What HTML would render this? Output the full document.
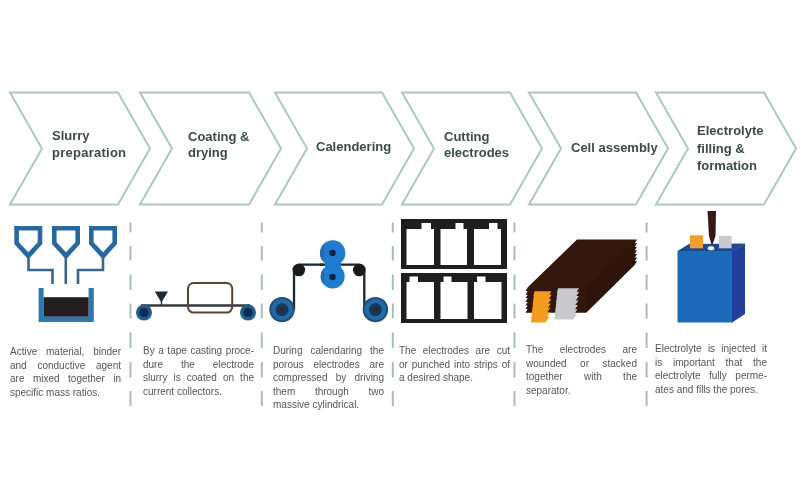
<!DOCTYPE html>
<html><head><meta charset="utf-8">
<style>
html,body{margin:0;padding:0;background:#fff;}
body{width:800px;height:500px;position:relative;overflow:hidden;font-family:"Liberation Sans",sans-serif;}
#w{position:absolute;left:0;top:0;width:800px;height:500px;filter:blur(0.4px);}
svg{position:absolute;left:0;top:0;}
.p{position:absolute;font-size:10px;line-height:13.5px;color:#555;width:111px;}
.p div{text-align:justify;text-align-last:justify;white-space:nowrap;}
.p div.l{text-align-last:left;}
</style></head><body><div id="w">
<svg width="800" height="500" viewBox="0 0 800 500">
 <g fill="none" stroke="#aec7c3" stroke-width="2">
  <path d="M10,92.5 L118,92.5 L150,148.5 L118,204.5 L10,204.5 L42,148.5 Z"/>
  <path d="M140,92.5 L249,92.5 L281,148.5 L249,204.5 L140,204.5 L172,148.5 Z"/>
  <path d="M275,92.5 L382,92.5 L414,148.5 L382,204.5 L275,204.5 L307,148.5 Z"/>
  <path d="M402,92.5 L510,92.5 L542,148.5 L510,204.5 L402,204.5 L434,148.5 Z"/>
  <path d="M529,92.5 L636,92.5 L668,148.5 L636,204.5 L529,204.5 L561,148.5 Z"/>
  <path d="M656,92.5 L764,92.5 L796,148.5 L764,204.5 L656,204.5 L688,148.5 Z"/>
 </g>
 <g font-family="Liberation Sans" font-weight="bold" font-size="13" fill="#3c4a4a">
  <text x="52" y="140">Slurry</text><text x="52" y="157.3" letter-spacing="0.25">preparation</text>
  <text x="188" y="140.5">Coating &amp;</text><text x="188" y="157.3">drying</text>
  <text x="316" y="151">Calendering</text>
  <text x="444" y="140.5">Cutting</text><text x="444" y="157.3">electrodes</text>
  <text x="571" y="152">Cell assembly</text>
  <text x="697" y="135.3">Electrolyte</text><text x="697" y="152.5">filling &amp;</text><text x="697" y="169.8">formation</text>
 </g>
 <g stroke="#a8bdba" stroke-width="2">
  <line x1="130.5" y1="222.5" x2="130.5" y2="232.5"/><line x1="130.5" y1="246" x2="130.5" y2="260.5"/><line x1="130.5" y1="274.5" x2="130.5" y2="290"/><line x1="130.5" y1="303.5" x2="130.5" y2="318.5"/><line x1="130.5" y1="332.5" x2="130.5" y2="348"/><line x1="130.5" y1="362" x2="130.5" y2="377.5"/><line x1="130.5" y1="391" x2="130.5" y2="406"/><line x1="261.8" y1="222.5" x2="261.8" y2="232.5"/><line x1="261.8" y1="246" x2="261.8" y2="260.5"/><line x1="261.8" y1="274.5" x2="261.8" y2="290"/><line x1="261.8" y1="303.5" x2="261.8" y2="318.5"/><line x1="261.8" y1="332.5" x2="261.8" y2="348"/><line x1="261.8" y1="362" x2="261.8" y2="377.5"/><line x1="261.8" y1="391" x2="261.8" y2="406"/><line x1="392.8" y1="222.5" x2="392.8" y2="232.5"/><line x1="392.8" y1="246" x2="392.8" y2="260.5"/><line x1="392.8" y1="274.5" x2="392.8" y2="290"/><line x1="392.8" y1="303.5" x2="392.8" y2="318.5"/><line x1="392.8" y1="332.5" x2="392.8" y2="348"/><line x1="392.8" y1="362" x2="392.8" y2="377.5"/><line x1="392.8" y1="391" x2="392.8" y2="406"/><line x1="514.5" y1="222.5" x2="514.5" y2="232.5"/><line x1="514.5" y1="246" x2="514.5" y2="260.5"/><line x1="514.5" y1="274.5" x2="514.5" y2="290"/><line x1="514.5" y1="303.5" x2="514.5" y2="318.5"/><line x1="514.5" y1="332.5" x2="514.5" y2="348"/><line x1="514.5" y1="362" x2="514.5" y2="377.5"/><line x1="514.5" y1="391" x2="514.5" y2="406"/><line x1="646.6" y1="222.5" x2="646.6" y2="232.5"/><line x1="646.6" y1="246" x2="646.6" y2="260.5"/><line x1="646.6" y1="274.5" x2="646.6" y2="290"/><line x1="646.6" y1="303.5" x2="646.6" y2="318.5"/><line x1="646.6" y1="332.5" x2="646.6" y2="348"/><line x1="646.6" y1="362" x2="646.6" y2="377.5"/><line x1="646.6" y1="391" x2="646.6" y2="406"/>
 </g>
 <!-- icon1 slurry -->
 <g fill="#27689e" fill-rule="evenodd"><path d="M14.3,226 H42.3 V244 L28.3,259.5 L14.3,244 Z M18.9,230.4 V242.2 L28.3,252.3 L37.699999999999996,242.2 V230.4 Z"/><path d="M52,226 H80 V244 L66,259.5 L52,244 Z M56.6,230.4 V242.2 L66,252.3 L75.4,242.2 V230.4 Z"/><path d="M89,226 H117 V244 L103,259.5 L89,244 Z M93.6,230.4 V242.2 L103,252.3 L112.4,242.2 V230.4 Z"/></g>
 <g fill="none" stroke="#38678a" stroke-width="2.6">
  <path d="M28.5,257 V270 H52.5 V284"/>
  <path d="M65.8,257 V284"/>
  <path d="M103,257 V270 H78 V284"/>
 </g>
 <path fill="#2a78b0" d="M38.6,288 H43.6 V316.6 H88.6 V288 H93.8 V322 H38.6 Z"/>
 <rect x="43.6" y="297.2" width="45" height="19.4" fill="#231f20"/>
 <!-- icon2 coating -->
 <path d="M141,305.5 H250" stroke="#34393d" stroke-width="2.3"/>
 <path d="M161.5,300 V305" stroke="#1c2a36" stroke-width="1.4"/>
 <circle cx="144" cy="312.5" r="8" fill="#225c8c"/><circle cx="144" cy="312.5" r="4.6" fill="#0b2c4f"/>
 <circle cx="248" cy="312.5" r="8" fill="#225c8c"/><circle cx="248" cy="312.5" r="4.6" fill="#0b2c4f"/>
 <path d="M154.8,291.5 H168 L161.3,302.5 Z" fill="#1c2a36"/>
 <rect x="188" y="283" width="44.2" height="29.6" rx="5.5" fill="none" stroke="#5a4535" stroke-width="2"/>
 <!-- icon3 calendering -->
 <defs><clipPath id="cl"><rect x="300" y="230" width="24" height="70"/></clipPath></defs>
 <path d="M294,310 V270 A5.5,5.5 0 0 1 299.5,264.7 H359 A5.5,5.5 0 0 1 364.3,270 V310" fill="none" stroke="#1b2630" stroke-width="2.3"/>
 <g fill="#1f7bcf"><circle cx="332.7" cy="253" r="12.7"/><circle cx="332.7" cy="276.5" r="12"/><rect x="325" y="256" width="16" height="18"/></g>
 <g fill="#2c6aa6" clip-path="url(#cl)"><circle cx="332.7" cy="253" r="12.7"/><circle cx="332.7" cy="276.5" r="12"/></g>
 <path d="M320,264.7 H324" stroke="#1b2630" stroke-width="2.3"/>
 <circle cx="332.5" cy="253" r="3.2" fill="#0c2540"/><circle cx="332.5" cy="277" r="3.2" fill="#0c2540"/>
 <circle cx="298.8" cy="270" r="6.3" fill="#1a1a1a"/><circle cx="359.3" cy="270" r="6.3" fill="#1a1a1a"/>
 <circle cx="282" cy="309.6" r="12.7" fill="#1c4d78"/><circle cx="282" cy="309.6" r="10.8" fill="#2668a0"/><circle cx="282" cy="309.6" r="6.4" fill="#113a62"/><circle cx="282" cy="309.6" r="2.4" fill="#4a2010"/><circle cx="375.4" cy="309.6" r="12.7" fill="#1c4d78"/><circle cx="375.4" cy="309.6" r="10.8" fill="#2668a0"/><circle cx="375.4" cy="309.6" r="6.4" fill="#113a62"/><circle cx="375.4" cy="309.6" r="2.4" fill="#4a2010"/>
 <!-- icon4 cutting -->
 <path fill="#1e1e1e" fill-rule="evenodd" d="M401,219 H507 V269 H401 Z
   M406.5,229 H421.5 V223 H431 V229 H434 V265 H406.5 Z
   M440.5,229 H455.5 V223 H463.5 V229 H467 V265 H440.5 Z
   M474,229 H489 V223 H497.5 V229 H501 V265 H474 Z"/>
 <path fill="#1e1e1e" fill-rule="evenodd" d="M401,273 H507 V323 H401 Z
   M406.5,282 H409.5 V276.5 H418 V282 H434 V319 H406.5 Z
   M440.5,282 H443.5 V276.5 H451.5 V282 H467.5 V319 H440.5 Z
   M474,282 H477 V276.5 H485.5 V282 H501.5 V319 H474 Z"/>
 <!-- icon5 stack -->
 <polygon points="577.00,261.10 637.00,261.10 634.20,265.20 586.00,312.70 525.50,312.70 528.00,308.60" fill="#33170c"/>
<polygon points="588.00,308.60 637.00,261.10 634.20,265.20 586.00,312.70" fill="#2a1209"/>
<polygon points="577.00,257.50 637.00,257.50 634.20,261.60 586.00,309.10 525.50,309.10 528.00,305.00" fill="#33170c"/>
<polygon points="588.00,305.00 637.00,257.50 634.20,261.60 586.00,309.10" fill="#2a1209"/>
<polygon points="577.00,253.90 637.00,253.90 634.20,258.00 586.00,305.50 525.50,305.50 528.00,301.40" fill="#33170c"/>
<polygon points="588.00,301.40 637.00,253.90 634.20,258.00 586.00,305.50" fill="#2a1209"/>
<polygon points="577.00,250.30 637.00,250.30 634.20,254.40 586.00,301.90 525.50,301.90 528.00,297.80" fill="#33170c"/>
<polygon points="588.00,297.80 637.00,250.30 634.20,254.40 586.00,301.90" fill="#2a1209"/>
<polygon points="577.00,246.70 637.00,246.70 634.20,250.80 586.00,298.30 525.50,298.30 528.00,294.20" fill="#33170c"/>
<polygon points="588.00,294.20 637.00,246.70 634.20,250.80 586.00,298.30" fill="#2a1209"/>
<polygon points="577.00,243.10 637.00,243.10 634.20,247.20 586.00,294.70 525.50,294.70 528.00,290.60" fill="#33170c"/>
<polygon points="588.00,290.60 637.00,243.10 634.20,247.20 586.00,294.70" fill="#2a1209"/>
<polygon points="577.00,239.50 637.00,239.50 634.20,243.60 586.00,291.10 525.50,291.10 528.00,287.00" fill="#33170c"/>
<polygon points="588.00,287.00 637.00,239.50 634.20,243.60 586.00,291.10" fill="#2a1209"/>
 <polygon points="531.80,316.60 549.53,316.60 545.60,322.40 530.84,322.40" fill="#f39c1e"/>
<polygon points="532.25,312.20 549.98,312.20 546.05,318.00 531.29,318.00" fill="#f39c1e"/>
<polygon points="532.70,307.80 550.43,307.80 546.50,313.60 531.74,313.60" fill="#f39c1e"/>
<polygon points="533.15,303.40 550.88,303.40 546.95,309.20 532.19,309.20" fill="#f39c1e"/>
<polygon points="533.60,299.00 551.33,299.00 547.40,304.80 532.64,304.80" fill="#f39c1e"/>
<polygon points="534.05,294.60 551.78,294.60 547.85,300.40 533.09,300.40" fill="#f39c1e"/>
<polygon points="534.50,291.20 551.50,291.20 548.30,296.00 533.54,296.00" fill="#f39c1e"/>
 <polygon points="555.30,313.70 577.03,313.70 573.10,319.50 554.34,319.50" fill="#c9c9cc"/>
<polygon points="555.75,309.30 577.48,309.30 573.55,315.10 554.79,315.10" fill="#c9c9cc"/>
<polygon points="556.20,304.90 577.93,304.90 574.00,310.70 555.24,310.70" fill="#c9c9cc"/>
<polygon points="556.65,300.50 578.38,300.50 574.45,306.30 555.69,306.30" fill="#c9c9cc"/>
<polygon points="557.10,296.10 578.83,296.10 574.90,301.90 556.14,301.90" fill="#c9c9cc"/>
<polygon points="557.55,291.70 579.28,291.70 575.35,297.50 556.59,297.50" fill="#c9c9cc"/>
<polygon points="558.00,288.30 579.00,288.30 575.80,293.10 557.04,293.10" fill="#c9c9cc"/>
 <!-- icon6 battery -->
 <polygon points="677.5,251 689,244 745,243.5 732.5,251" fill="#1b4a90"/>
 <rect x="677.5" y="251" width="55" height="71.5" fill="#1f6ab8"/>
 <polygon points="732,251 745,243.5 745,314 732,322.5" fill="#233f9a"/>
 <rect x="690" y="235.3" width="13" height="13" fill="#f39c30"/>
 <rect x="719" y="235.8" width="12.6" height="12.5" fill="#c9c9d1"/>
 <polygon points="707.5,211 716,211 715.5,236 712.5,244.5 711.5,244.5 709,236" fill="#3a1616"/>
 <ellipse cx="711" cy="248.3" rx="3.2" ry="2" fill="#fff"/>
</svg>
<div class="p" style="left:10px;top:345px;"><div>Active material, binder</div><div>and conductive agent</div><div>are mixed together in</div><div class="l">specific mass ratios.</div></div>
<div class="p" style="left:143px;top:344px;"><div>By a tape casting proce-</div><div>dure the electrode</div><div>slurry is coated on the</div><div class="l">current collectors.</div></div>
<div class="p" style="left:273px;top:344px;"><div>During calendaring the</div><div>porous electrodes are</div><div>compressed by driving</div><div>them through two</div><div class="l">massive cylindrical.</div></div>
<div class="p" style="left:399px;top:344px;"><div>The electrodes are cut</div><div>or punched into strips of</div><div class="l">a desired shape.</div></div>
<div class="p" style="left:526px;top:343px;"><div>The electrodes are</div><div>wounded or stacked</div><div>together with the</div><div class="l">separator.</div></div>
<div class="p" style="left:655px;top:342px;width:112px;"><div>Electrolyte is injected it</div><div>is important that the</div><div>electrolyte fully perme-</div><div class="l">ates and fills the pores.</div></div>
</div></body></html>
